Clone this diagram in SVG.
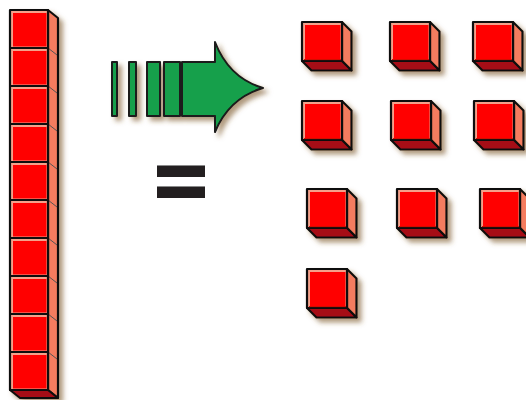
<svg xmlns="http://www.w3.org/2000/svg" xmlns:xlink="http://www.w3.org/1999/xlink" width="526" height="400" viewBox="0 0 526 400">
  <style>
    .edge { stroke: #111; stroke-width: 2.2; stroke-linejoin: round; }
    .face { fill: #f4a08a; }
    .front { fill: #ff0000; }
    .side { fill: #f47c5e; }
    .bottom { fill: #a60f14; }
    .green { fill: #16a04c; stroke: #1a1a1a; stroke-width: 2; stroke-linejoin: round; }
    .bar { fill: #231f20; }
  </style>
  <defs>
    <filter id="shadow" x="-20%" y="-20%" width="150%" height="150%">
      <feGaussianBlur in="SourceAlpha" stdDeviation="2.5" result="b"/>
      <feOffset in="b" dx="4" dy="4" result="o"/>
      <feFlood flood-color="#7a5526" flood-opacity="0.6"/>
      <feComposite in2="o" operator="in" result="s"/>
      <feMerge><feMergeNode in="s"/><feMergeNode in="SourceGraphic"/></feMerge>
    </filter>
    <!-- one unit cube: front face at origin, 40 x 39, depth 9 -->
    <g id="cube">
      <polygon class="side edge" points="40,0 49.5,9.5 49.5,48.5 40,39"/>
      <polygon class="bottom edge" points="0,39 40,39 49.5,48.5 9.5,48.5"/>
      <rect class="face edge" x="0" y="0" width="40" height="39"/>
      <rect class="front" x="3" y="3" width="35.5" height="34.5"/>
      <line x1="2" y1="37.6" x2="39" y2="37.6" stroke="#d00000" stroke-width="1"/>
    </g>
    <!-- one front face of the tall rod: 38 x 38 -->
    <g id="rodface">
      <rect class="face edge" x="0" y="0" width="38" height="38"/>
      <rect class="front" x="3" y="3" width="33.5" height="33.5"/>
    </g>
  </defs>

  <!-- tall rod of ten cubes -->
  <g id="rod" filter="url(#shadow)">
    <polygon class="side edge" points="48,10 58,18 58,398 48,390"/>
    <polygon class="bottom edge" points="10,390 48,390 58,398 20,398"/>
    <g stroke="#555" stroke-width="1">
      <line x1="48" y1="48" x2="57" y2="55"/>
      <line x1="48" y1="86" x2="57" y2="93"/>
      <line x1="48" y1="124" x2="57" y2="131"/>
      <line x1="48" y1="162" x2="57" y2="169"/>
      <line x1="48" y1="200" x2="57" y2="207"/>
      <line x1="48" y1="238" x2="57" y2="245"/>
      <line x1="48" y1="276" x2="57" y2="283"/>
      <line x1="48" y1="314" x2="57" y2="321"/>
      <line x1="48" y1="352" x2="57" y2="359"/>
    </g>
    <use xlink:href="#rodface" x="10" y="10"/>
    <use xlink:href="#rodface" x="10" y="48"/>
    <use xlink:href="#rodface" x="10" y="86"/>
    <use xlink:href="#rodface" x="10" y="124"/>
    <use xlink:href="#rodface" x="10" y="162"/>
    <use xlink:href="#rodface" x="10" y="200"/>
    <use xlink:href="#rodface" x="10" y="238"/>
    <use xlink:href="#rodface" x="10" y="276"/>
    <use xlink:href="#rodface" x="10" y="314"/>
    <use xlink:href="#rodface" x="10" y="352"/>
  </g>

  <!-- block arrow with trailing bars -->
  <g id="arrow" filter="url(#shadow)">
    <rect class="green" x="112" y="62" width="5" height="54"/>
    <rect class="green" x="129" y="62" width="7" height="54"/>
    <rect class="green" x="147" y="62" width="13" height="54"/>
    <rect class="green" x="164" y="62" width="16" height="54"/>
    <path class="green" d="M182,62 H215 V42 Q229,78 263,88 Q229,98 215,132 V116 H182 Z"/>
  </g>

  <!-- equals sign -->
  <g id="equals">
    <rect class="bar" x="157" y="165" width="48" height="12"/>
    <rect class="bar" x="157" y="186" width="48" height="12"/>
    <g stroke="#8a8a8a" stroke-width="1">
      <line x1="157" y1="165.5" x2="205" y2="165.5"/>
      <line x1="157" y1="186.5" x2="205" y2="186.5"/>
    </g>
  </g>

  <!-- ten single cubes -->
  <g id="cube1" filter="url(#shadow)"><use xlink:href="#cube" x="302" y="22"/></g>
  <g id="cube2" filter="url(#shadow)"><use xlink:href="#cube" x="390" y="22"/></g>
  <g id="cube3" filter="url(#shadow)"><use xlink:href="#cube" x="473" y="22"/></g>
  <g id="cube4" filter="url(#shadow)"><use xlink:href="#cube" x="302" y="101"/></g>
  <g id="cube5" filter="url(#shadow)"><use xlink:href="#cube" x="391" y="101"/></g>
  <g id="cube6" filter="url(#shadow)"><use xlink:href="#cube" x="474" y="101"/></g>
  <g id="cube7" filter="url(#shadow)"><use xlink:href="#cube" x="307" y="189"/></g>
  <g id="cube8" filter="url(#shadow)"><use xlink:href="#cube" x="397" y="189"/></g>
  <g id="cube9" filter="url(#shadow)"><use xlink:href="#cube" x="480" y="189"/></g>
  <g id="cube10" filter="url(#shadow)"><use xlink:href="#cube" x="307" y="269"/></g>
</svg>
